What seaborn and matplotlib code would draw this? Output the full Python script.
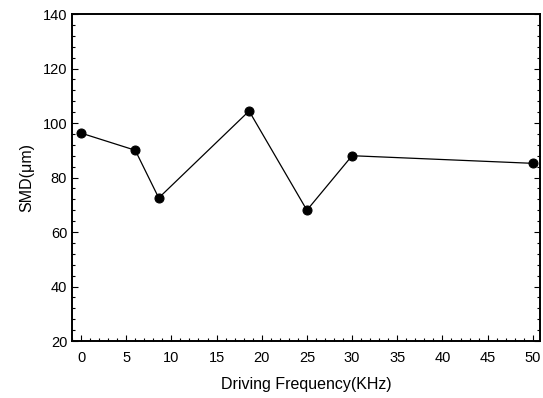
import numpy as np
import pandas as pd
import matplotlib
matplotlib.use("Agg")
import matplotlib.pyplot as plt
from matplotlib.ticker import MultipleLocator
import seaborn as sns

# valores
freq_khz = [0, 6, 8.6, 18.6, 25, 30, 50]
smd_um = [96.3, 90, 72.5, 104.4, 68, 88, 85.2]

df = pd.DataFrame({"freq": freq_khz, "smd": smd_um})

sns.set_style("ticks", {"text.color": "black", "axes.labelcolor": "black",
                        "xtick.color": "black", "ytick.color": "black",
                        "axes.edgecolor": "black"})
plt.rcParams["font.family"] = ["Liberation Sans", "DejaVu Sans"]

fig = plt.figure(figsize=(5.43, 3.98), dpi=100)
ax = fig.add_axes([0.1326, 0.1432, 0.8619, 0.8216])

sns.lineplot(data=df, x="freq", y="smd", ax=ax, color="black", linewidth=0.9,
             marker="o", markersize=6.5, markeredgecolor="black", sort=False)

ax.set_xlim(-1, 50.8)
ax.set_ylim(20, 140)
ax.xaxis.set_major_locator(MultipleLocator(5))
ax.xaxis.set_minor_locator(MultipleLocator(1))
ax.yaxis.set_major_locator(MultipleLocator(20))
ax.yaxis.set_minor_locator(MultipleLocator(4))
ax.tick_params(which="both", direction="in", top=False, right=True, labelsize=10.5, width=0.8)
ax.tick_params(which="major", length=4)
ax.tick_params(which="minor", length=2)
ax.tick_params(axis="x", pad=7)
for s in ax.spines.values():
    s.set_linewidth(1.4)
    s.set_color("black")

ax.set_xlabel("Driving Frequency(KHz)", fontsize=11.5, labelpad=9)
ax.set_ylabel("SMD(\u03bcm)", fontsize=11.5, labelpad=6)

fig.savefig("out.png", dpi=100)
